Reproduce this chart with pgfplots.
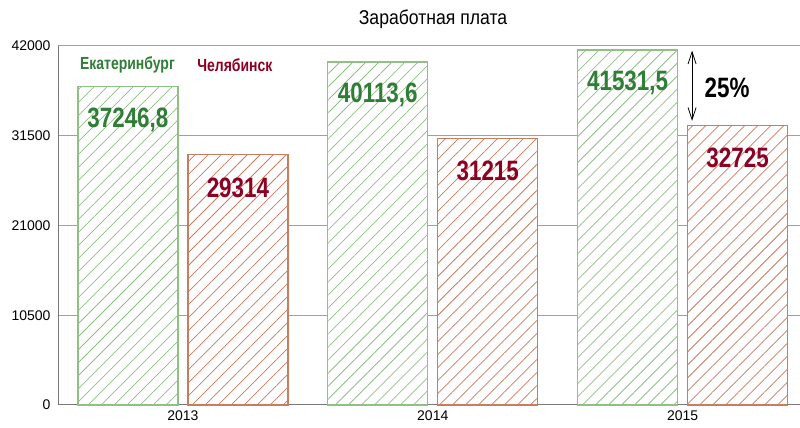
\documentclass[border=0pt]{standalone}
\usepackage{pgfplots}
\pgfplotsset{compat=1.18}
\usepackage{pgfplotstable}
\usetikzlibrary{patterns.meta,arrows.meta}
\usepackage{fontspec}
\setmainfont{Liberation Sans}
\newfontfamily\condfont{Liberation Sans}[FakeStretch=0.8]
\newfontfamily\titlefont{Liberation Sans}[FakeStretch=0.88]
\definecolor{gedge}{RGB}{145,192,135}
\definecolor{oedge}{RGB}{200,125,95}
\definecolor{gtext}{RGB}{48,125,55}
\definecolor{rtext}{RGB}{140,0,35}
\definecolor{gridc}{RGB}{160,160,160}
\definecolor{axc}{RGB}{120,120,120}

\pgfplotstableread{
x y label
0 37246.8 37246,8
1 40113.6 40113,6
2 41531.5 41531,5
}\ekb
\pgfplotstableread{
x y label
0 29314 29314
1 31215 31215
2 32725 32725
}\chel

\begin{document}
\begin{tikzpicture}
\useasboundingbox (0,0) rectangle (800pt,428pt);
\node[font=\titlefont\fontsize{20}{22}\selectfont] at (433pt,409pt) {Заработная плата};
\begin{axis}[
  at={(58pt,23pt)}, anchor=south west,
  scale only axis, width=742pt, height=359pt,
  xmin=-0.5, xmax=2.47, ymin=0, ymax=42000,
  scaled y ticks=false,
  axis lines=left, axis line style={-, draw=axc, line width=1pt},
  major tick length=0pt,
  ytick={0,10500,21000,31500,42000},
  yticklabels={0,10500,21000,31500,42000},
  xtick={0,1,2}, xticklabels={2013,2014,2015},
  tick label style={font=\fontsize{14}{16}\selectfont, text=black},
  yticklabel style={xshift=-4pt},
  xticklabel style={yshift=-2pt},
  ymajorgrids, grid style={draw=gridc, line width=1pt},
  ybar=10pt, bar width=100pt,
  clip=false,
  point meta=explicit symbolic,
  nodes near coords,
  every node near coord/.append style={anchor=center, yshift=-33pt, font=\condfont\bfseries\fontsize{28}{30}\selectfont},
]
\addplot[preaction={fill=white},
  pattern={Lines[angle=45,distance=9.2pt,line width=0.75pt]}, pattern color=gedge,
  draw=gedge, line width=1.3pt,
  every node near coord/.append style={text=gtext}]
  table[x=x,y=y,meta=label]{\ekb};
\addplot[preaction={fill=white},
  pattern={Lines[angle=45,distance=9.2pt,line width=0.75pt]}, pattern color=oedge,
  draw=oedge, line width=1.3pt,
  every node near coord/.append style={text=rtext}]
  table[x=x,y=y,meta=label]{\chel};
\node[font=\condfont\bfseries\fontsize{17.5}{19}\selectfont, text=gtext] at (axis cs:-0.222,39800) {Екатеринбург};
\node[font=\condfont\bfseries\fontsize{17.5}{19}\selectfont, text=rtext] at (axis cs:0.208,39800) {Челябинск};
\draw[black, line width=0.8pt, {Straight Barb[length=12pt,width=8pt]}-{Straight Barb[length=12pt,width=8pt]}] (axis cs:2.038,41450) -- (axis cs:2.038,33250);
\node[font=\condfont\bfseries\fontsize{28}{30}\selectfont, text=black] at (axis cs:2.178,37086) {25\%};
\end{axis}
\end{tikzpicture}
\end{document}
